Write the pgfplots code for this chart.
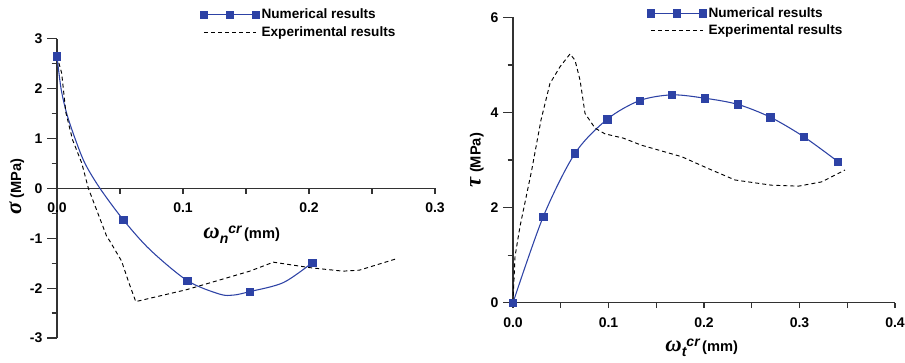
\documentclass[border=0pt]{standalone}
\usepackage{pgfplots}
\pgfplotsset{compat=1.18}
\usepackage{fontspec}
\setmainfont{Liberation Sans}
\newfontfamily\grk{Liberation Serif}
\definecolor{numblue}{RGB}{45,66,165}
\definecolor{axgray}{RGB}{50,50,50}

\pgfplotstableread{
x y
0 2.65
0.0032 2.0
0.0077 1.5
0.0143 1.0
0.0222 0.5
0.0341 0
0.0526 -0.63
0.0738 -1.23
0.1034 -1.85
0.129 -2.12
0.14 -2.14
0.153 -2.07
0.1796 -1.89
0.2026 -1.49
}\numcurveL
\pgfplotstableread{
x y
0 2.65
0.0526 -0.63
0.1034 -1.85
0.153 -2.07
0.2026 -1.49
}\nummarksL
\pgfplotstableread{
x y
0 2.65
0.0037 2.31
0.0071 1.51
0.0124 0.97
0.0196 0.51
0.0249 0
0.0394 -0.96
0.042 -1.06
0.0513 -1.46
0.0566 -1.86
0.0625 -2.27
0.103 -2.03
0.153 -1.66
0.1717 -1.48
0.2008 -1.59
0.227 -1.66
0.24 -1.64
0.2696 -1.41
}\expL
\pgfplotstableread{
x y
0 0
0.0317 1.81
0.0649 3.14
0.0988 3.86
0.1326 4.25
0.1665 4.37
0.2007 4.30
0.2353 4.17
0.2695 3.90
0.3044 3.49
0.34 2.97
}\numR
\pgfplotstableread{
x y
0 0
0.0021 0.97
0.0073 1.6
0.0196 2.79
0.0293 3.84
0.0387 4.61
0.0492 4.96
0.0597 5.23
0.0649 5.1
0.0702 4.68
0.0754 3.98
0.0859 3.67
0.0963 3.55
0.1155 3.46
0.1347 3.31
0.1766 3.07
0.2045 2.82
0.2325 2.58
0.2709 2.47
0.2988 2.45
0.3232 2.54
0.3476 2.79
}\expR

\begin{document}
\begin{tikzpicture}
\useasboundingbox (0pt,0pt) rectangle (678.75pt,-271.5pt);
\pgfplotsset{
  every axis/.append style={
    scale only axis, clip=false,
    axis line style={-, line width=0.9pt, axgray},
    every inner x axis line/.append style={-},
    every inner y axis line/.append style={-},
    every outer x axis line/.append style={-},
    every outer y axis line/.append style={-},
    x axis line style={-}, y axis line style={-},
    tick align=outside,
    major tick length=7.5pt, minor tick length=4pt,
    tick style={line width=0.9pt, axgray},
    major x tick style={draw=none},
    hide obscured x ticks=false, hide obscured y ticks=false,
    /pgf/number format/assume math mode=true,
    xticklabel style={font=\fontsize{10.5}{12}\selectfont\bfseries},
    yticklabel style={font=\fontsize{10.5}{12}\selectfont\bfseries},
    legend style={draw=none, fill=none, font=\fontsize{10.2}{12}\selectfont\bfseries,
      legend cell align=left, row sep=1pt, inner sep=0pt, nodes={inner sep=1.5pt}},
  },
  numline/.style={numblue, line width=0.8pt},
  numimg/.style={legend image code/.code={
    \draw[numblue, line width=0.8pt, mark=square*, mark size=2.75pt]
      plot coordinates {(0pt,0pt) (19.5pt,0pt) (39pt,0pt)};}},
  expimg/.style={legend image code/.code={
    \draw[black, line width=0.7pt, dash pattern=on 3pt off 2.3pt] (0pt,0pt) -- (39pt,0pt);}},
}
% Left panel
\begin{axis}[
  at={(42.75pt,-253.5pt)}, anchor=south west,
  width=283.5pt, height=224.5pt,
  xmin=0, xmax=0.3, ymin=-3, ymax=3,
  axis x line*=middle, axis y line*=left,
  xtick={0,0.1,0.2,0.3}, xticklabels={0.0,0.1,0.2,0.3},
  minor xtick={0,0.05,0.1,0.15,0.2,0.25,0.3},
  ytick={-3,-2,-1,0,1,2,3}, yticklabels={-3,-2,-1,0,1,2,3},
  minor ytick={-2.5,-1.5,-0.5,0.5,1.5,2.5},
  legend style={at={(axis cs:0.1135,3.64)}, anchor=north west},
]
\addplot[numline, smooth, forget plot] table {\numcurveL};
\addplot[only marks, mark=square*, mark size=2.75pt, numblue, forget plot] table {\nummarksL};
\addplot[black, line width=0.7pt, dash pattern=on 3pt off 2.3pt, forget plot] table {\expL};
\addlegendimage{numimg}
\addlegendentry{Numerical results}
\addlegendimage{expimg}
\addlegendentry{Experimental results}
\node[rotate=90, font=\fontsize{11}{12}\selectfont\bfseries] at (axis cs:-0.032,0.04)
  {{\grk\itshape\fontsize{17}{17}\selectfont σ} (MPa)};
\node[font=\fontsize{11}{12}\selectfont\bfseries] at (axis cs:0.1466,-0.93)
  {{\grk\itshape\fontsize{17}{17}\selectfont ω}\raisebox{-4pt}{\itshape\fontsize{10.5}{10}\selectfont n}\raisebox{4pt}{\itshape\fontsize{10.5}{10}\selectfont cr}\,(mm)};
\end{axis}
% Right panel
\begin{axis}[
  at={(384.75pt,-227pt)}, anchor=south west,
  width=286.5pt, height=214pt,
  xmin=0, xmax=0.4, ymin=0, ymax=6,
  axis x line*=bottom, axis y line*=left,
  xtick={0,0.1,0.2,0.3,0.4}, xticklabels={0.0,0.1,0.2,0.3,0.4},
  minor xtick={0,0.05,0.1,0.15,0.2,0.25,0.3,0.35,0.4},
  ytick={0,2,4,6}, yticklabels={0,2,4,6}, minor ytick={1,3,5},
  legend style={at={(axis cs:0.1403,6.25)}, anchor=north west},
]
\addplot[numline, smooth, forget plot] table {\numR};
\addplot[only marks, mark=square*, mark size=2.75pt, numblue, forget plot] table {\numR};
\addplot[black, line width=0.7pt, dash pattern=on 3pt off 2.3pt, forget plot] table {\expR};
\addlegendimage{numimg}
\addlegendentry{Numerical results}
\addlegendimage{expimg}
\addlegendentry{Experimental results}
\node[rotate=90, font=\fontsize{11}{12}\selectfont\bfseries] at (axis cs:-0.038,3.0)
  {{\grk\itshape\fontsize{17}{17}\selectfont τ} (MPa)};
\node[font=\fontsize{11}{12}\selectfont\bfseries] at (axis cs:0.1976,-0.95)
  {{\grk\itshape\fontsize{17}{17}\selectfont ω}\raisebox{-4pt}{\itshape\fontsize{10.5}{10}\selectfont t}\raisebox{4pt}{\itshape\fontsize{10.5}{10}\selectfont cr}\,(mm)};
\end{axis}
\end{tikzpicture}
\end{document}
